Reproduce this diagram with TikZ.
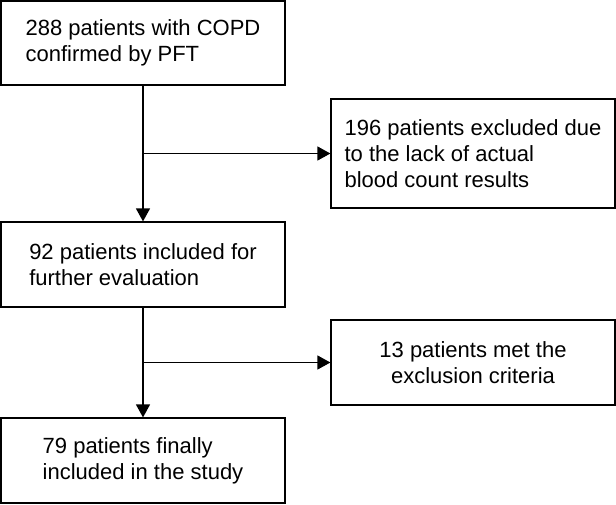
\documentclass[tikz,border=0pt]{standalone}
\usepackage{fontspec}
\setmainfont{Liberation Sans}
\usepackage{tikz}
\usetikzlibrary{positioning,arrows.meta}
\tikzstyle{flowChart} = [x = 1pt, y = -1pt]
\tikzstyle{boxStyle} = [draw, line width = 1.2pt, minimum width = 284pt, minimum height = 85pt, inner sep = 0pt, align = left, font = \fontsize{22pt}{26pt}\selectfont]
\tikzstyle{flowLine} = [line width = 1.3pt]
\tikzstyle{flowArrow} = [flowLine, -{Triangle[length = 13pt, width = 14pt]}]
\begin{document}
\begin{tikzpicture}[flowChart]
          \useasboundingbox (0,0) rectangle (616,504);
          \node [boxStyle, minimum height = 84pt] (copd) at (143,43) {288 patients with COPD\\confirmed by PFT};
          \node [boxStyle, minimum height = 109pt] (noCount) at (473,153.5) {196 patients excluded due\\to the lack of actual\\blood count results};
          \node [boxStyle] (included) at (143,264.5) {92 patients included for\\further evaluation};
          \node [boxStyle, align = center] (criteria) at (473,362.5) {13 patients met the\\exclusion criteria};
          \node [boxStyle] (final) at (143,460.5) {79 patients finally\\included in the study};

          \coordinate (splitOne) at (copd.south |- noCount.west);
          \coordinate (splitTwo) at (included.south |- criteria.west);
          \draw [flowArrow] (copd) -- (included);
          \draw [flowArrow] (splitOne) -- (noCount);
          \draw [flowArrow] (included) -- (final);
          \draw [flowArrow] (splitTwo) -- (criteria);
        \end{tikzpicture}
\end{document}
